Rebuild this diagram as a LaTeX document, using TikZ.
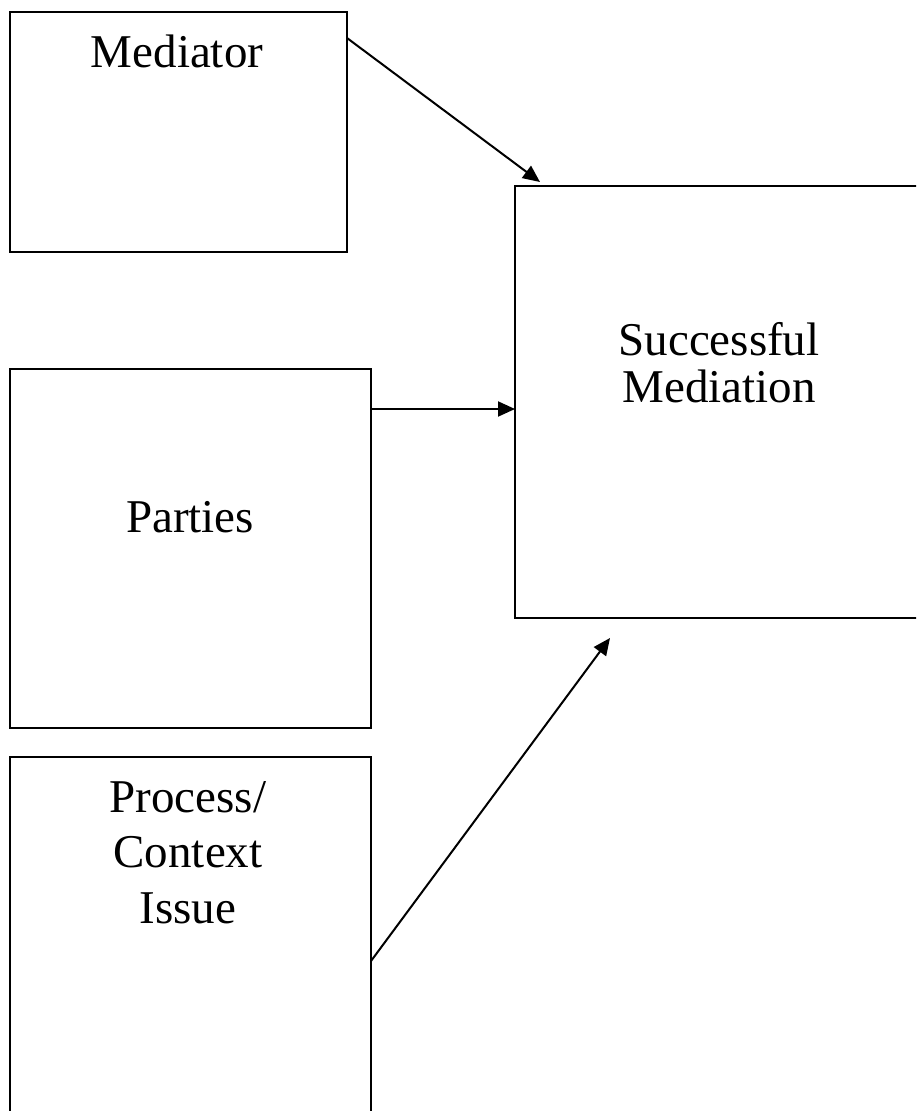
\documentclass[tikz,border=0pt]{standalone}
\usepackage{fontspec}
\setmainfont{Liberation Serif}
\usetikzlibrary{arrows.meta}
\begin{document}
\begin{tikzpicture}[x=1pt,y=1pt,
  box/.style={draw, line width=2.4pt, rectangle, inner sep=0pt, outer sep=0pt},
  lbl/.style={anchor=base, inner sep=0pt, font=\fontsize{47}{55}\selectfont},
  conn/.style={line width=2pt, -{Triangle[length=17pt,width=15pt]}}]
\useasboundingbox (0,0) rectangle (916,-1111);
\clip (0,0) rectangle (916,-1111);
% boxes
\node[box, minimum width=337pt, minimum height=240pt] (med) at (178.5,-132) {};
\node[box, minimum width=415pt, minimum height=432pt] (succ) at (722.5,-402) {};
\node[box, minimum width=361pt, minimum height=359pt] (par) at (190.5,-548.5) {};
\node[box, minimum width=361pt, minimum height=380pt] (proc) at (190.5,-947) {};
% labels
\node[lbl] (medtxt) at (177,-67) {Mediator};
\node[lbl] (succtxt1) at (719,-355) {Successful};
\node[lbl] (succtxt2) at (719,-402) {Mediation};
\node[lbl] (partxt) at (190,-532) {Parties};
\node[lbl] (proctxt1) at (188,-812) {Process/};
\node[lbl] (proctxt2) at (188,-867) {Context};
\node[lbl] (proctxt3) at (188,-923) {Issue};
% connector ends
\coordinate (s1) at ([yshift=-26pt]med.north east);
\coordinate (e1) at ([xshift=25pt,yshift=4pt]succ.north west);
\coordinate (s2) at ([yshift=-40pt]par.north east);
\coordinate (e2) at (succ.west |- s2);
\coordinate (s3) at ([yshift=-204pt]proc.north east);
\coordinate (e3) at ([xshift=95pt,yshift=-20pt]succ.south west);
\draw[conn] (s1) -- (e1);
\draw[conn] (s2) -- (e2);
\draw[conn] (s3) -- (e3);
\end{tikzpicture}
\end{document}
